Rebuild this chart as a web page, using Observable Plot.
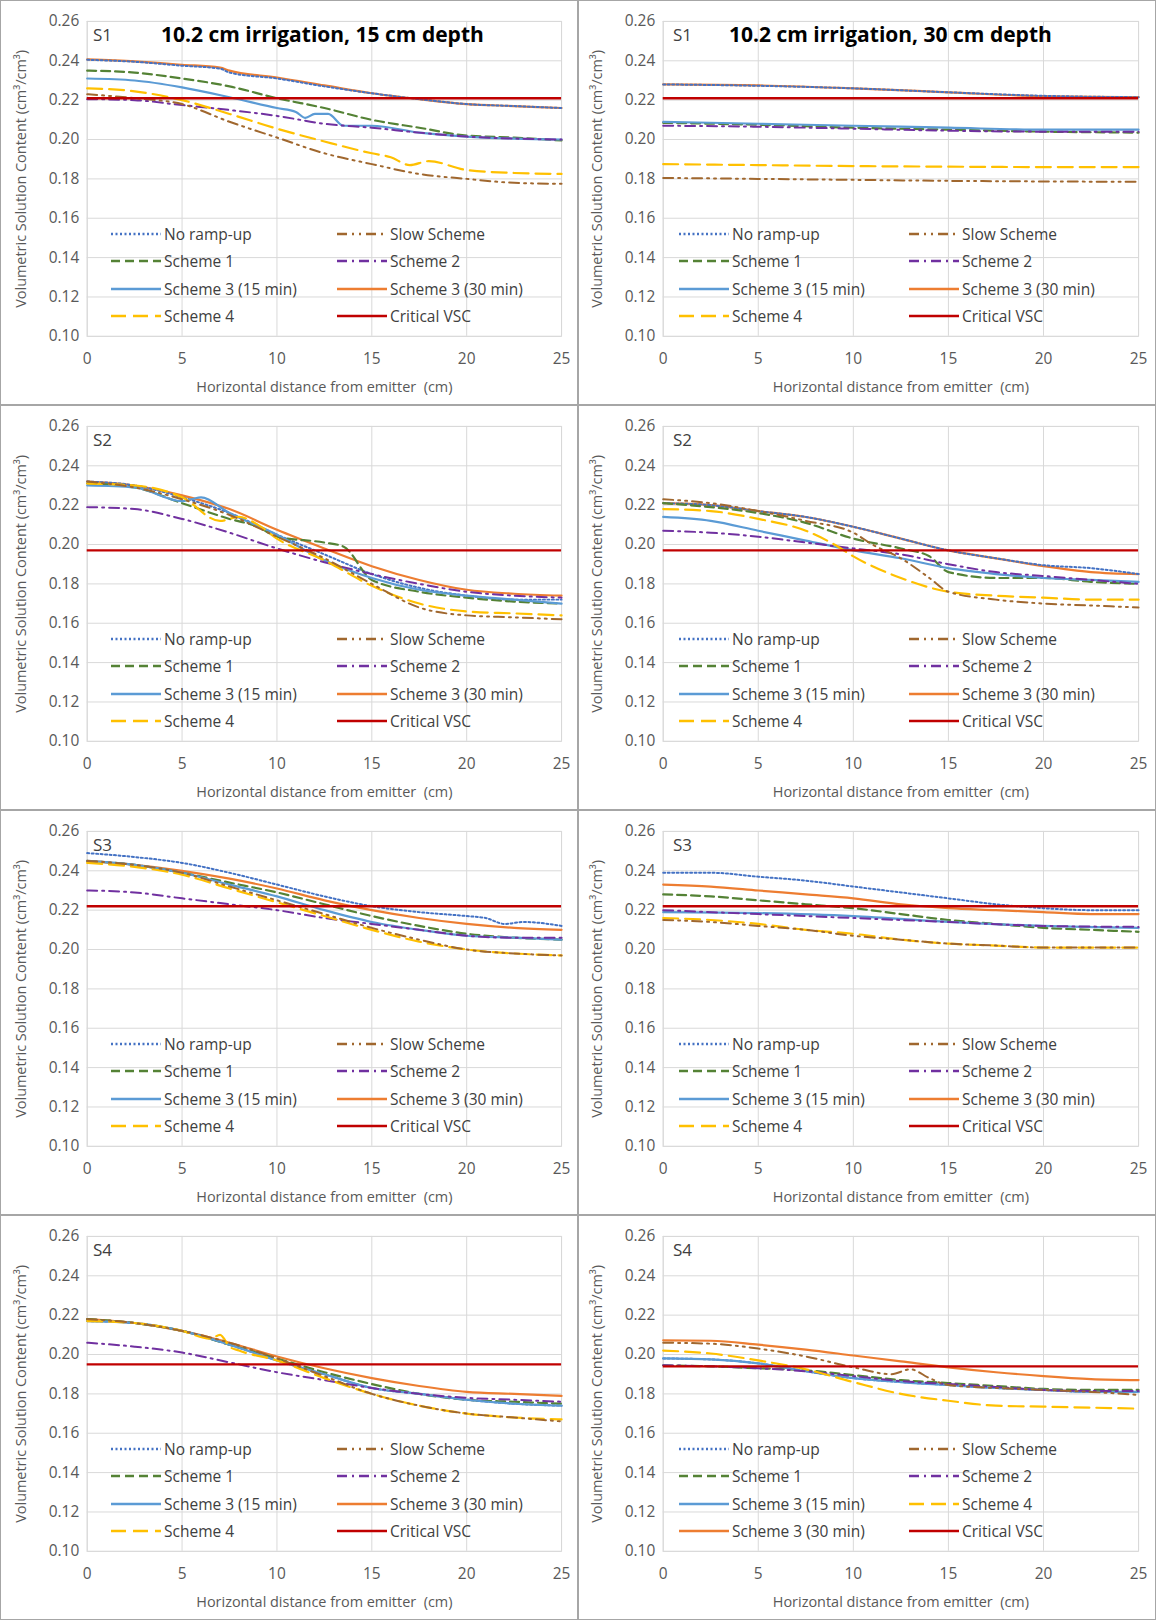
<!DOCTYPE html>
<html><head><meta charset="utf-8">
<script src="https://cdn.jsdelivr.net/npm/d3@7"></script>
<script src="https://cdn.jsdelivr.net/npm/@observablehq/plot@0.6"></script>
<style>
body{margin:0;background:#fff;font-family:"Open Sans",sans-serif;}
#grid{display:grid;grid-template-columns:578px 578px;width:1156px;}
.cell{position:relative;width:578px;height:405px;box-sizing:border-box;border:1px solid #a6a6a6;}
.cell svg{position:absolute;left:0;top:0;}
.tag{position:absolute;font-size:17px;color:#404040;}
.title{position:absolute;font-size:21px;font-weight:bold;color:#000;}
.leg{position:absolute;font-size:15.5px;color:#404040;display:flex;align-items:center;white-space:nowrap;}
.leg svg{position:static;margin-right:3px;}
</style></head><body><div id="grid"></div>
<script>
const X = [0,2.5,5,7.5,10,12.5,15,17.5,20,22.5,25];
const seriesNames = ["No ramp-up","Slow Scheme","Scheme 1","Scheme 2","Scheme 3 (15 min)","Scheme 3 (30 min)","Scheme 4","Critical VSC"];
const colors = ["#4472C4","#A0672E","#548235","#7030A0","#5B9BD5","#ED7D31","#FFC000","#C00000"];
const dashes = ["2,2.5","10,5,2,5,2,5","9,5","10,5,2,5","none","none","15,7","none"];
const widths = [2,2,2.2,2,2.2,2.2,2.2,2.4];
const panelTags = ["S1","S1","S2","S2","S3","S3","S4","S4"];
const panelTitles = ["10.2 cm irrigation, 15 cm depth","10.2 cm irrigation, 30 cm depth","","","","","",""];
const critical = [0.221,0.221,0.197,0.197,0.222,0.222,0.195,0.194];
const P1 = [
 [[0,.2405],[2.5,.2395],[5,.2375],[7,.236],[7.5,.234],[10,.231],[12.5,.227],[15,.2235],[17.5,.2205],[20,.218],[22.5,.217],[25,.216]],
 [[0,.223],[2.5,.221],[5,.218],[7.5,.209],[10,.201],[12.5,.193],[15,.1875],[17.5,.1825],[20,.18],[22.5,.178],[25,.1775]],
 [[0,.235],[2.5,.234],[5,.231],[7.5,.227],[10,.221],[12.5,.216],[15,.21],[17.5,.206],[20,.202],[22.5,.201],[25,.1995]],
 [[0,.2205],[2.5,.22],[5,.2175],[7.5,.215],[10,.212],[12.5,.208],[15,.206],[17.5,.2035],[20,.2015],[22.5,.2005],[25,.2]],
 [[0,.231],[2.5,.23],[5,.2265],[7.5,.2215],[10,.216],[11,.214],[11.5,.211],[12,.213],[12.7,.213],[13.5,.207],[15,.207],[17.5,.2035],[20,.2015],[22.5,.2005],[25,.2]],
 [[0,.2407],[2.5,.2397],[5,.238],[7,.2365],[7.5,.235],[10,.2315],[12.5,.2275],[15,.2235],[17.5,.2205],[20,.218],[22.5,.217],[25,.216]],
 [[0,.226],[2.5,.2245],[5,.22],[7.5,.213],[10,.2055],[12.5,.199],[15,.193],[16,.191],[17,.187],[18,.189],[20,.1845],[22.5,.183],[25,.1825]]
];
const P2 = [
 [[0,.228],[5,.2273],[10,.226],[15,.224],[20,.2222],[25,.2215]],
 [[0,.1805],[5,.18],[10,.1795],[15,.179],[20,.1787],[25,.1785]],
 [[0,.2085],[5,.2075],[10,.206],[15,.205],[20,.204],[25,.2035]],
 [[0,.207],[5,.2065],[10,.2055],[15,.2045],[20,.204],[25,.204]],
 [[0,.209],[5,.208],[10,.207],[15,.206],[20,.205],[25,.205]],
 [[0,.228],[5,.2275],[10,.226],[15,.224],[20,.222],[25,.2215]],
 [[0,.1875],[5,.187],[10,.1865],[15,.1862],[20,.186],[25,.186]]
];
const P3 = [
 [[0,.232],[2.5,.23],[5,.224],[7.5,.216],[10,.205],[12.5,.195],[15,.185],[17.5,.178],[20,.174],[22.5,.172],[25,.172]],
 [[0,.232],[2.5,.229],[5,.223],[7.5,.215],[10,.204],[12.5,.193],[15,.18],[17.5,.168],[20,.164],[22.5,.163],[25,.162]],
 [[0,.231],[2.5,.229],[5,.221],[7.5,.213],[9,.209],[10,.204],[12.5,.201],[13.5,.199],[15,.182],[17.5,.176],[20,.173],[22.5,.171],[25,.17]],
 [[0,.219],[2.5,.218],[5,.213],[7.5,.206],[10,.198],[12.5,.191],[15,.185],[17.5,.18],[20,.176],[22.5,.174],[25,.173]],
 [[0,.23],[2.5,.229],[5,.222],[5.5,.223],[6,.224],[7.5,.216],[10,.205],[12.5,.192],[15,.183],[17.5,.177],[20,.174],[22.5,.172],[25,.17]],
 [[0,.232],[2.5,.23],[5,.225],[7.5,.218],[10,.2075],[12.5,.198],[15,.189],[17.5,.182],[20,.177],[22.5,.175],[25,.174]],
 [[0,.231],[2.5,.23],[5,.224],[7,.212],[8,.214],[9,.21],[10,.203],[12.5,.192],[15,.179],[17.5,.17],[20,.166],[22.5,.165],[25,.164]]
];
const P4 = [
 [[0,.221],[2.5,.22],[5,.217],[7.5,.214],[10,.209],[12.5,.203],[15,.197],[17.5,.193],[20,.1895],[22.5,.188],[25,.185]],
 [[0,.223],[2.5,.221],[5,.217],[7.5,.212],[10,.206],[11,.2],[12.5,.193],[14,.183],[15,.176],[17.5,.172],[20,.17],[22.5,.169],[25,.168]],
 [[0,.221],[2.5,.219],[5,.216],[7.5,.211],[10,.203],[12.5,.198],[14,.194],[15,.186],[17.5,.183],[20,.183],[22.5,.181],[25,.18]],
 [[0,.207],[2.5,.206],[5,.204],[7.5,.201],[10,.198],[12.5,.195],[15,.19],[17.5,.186],[20,.184],[22.5,.182],[25,.18]],
 [[0,.214],[2.5,.212],[5,.207],[7.5,.202],[10,.197],[12.5,.193],[15,.188],[17.5,.185],[20,.183],[22.5,.182],[25,.181]],
 [[0,.221],[2.5,.22],[5,.217],[7.5,.214],[10,.209],[12.5,.203],[15,.197],[17.5,.193],[20,.189],[22.5,.186],[25,.185]],
 [[0,.218],[2.5,.217],[5,.213],[7.5,.207],[9,.2],[10,.194],[12.5,.183],[15,.176],[17.5,.174],[20,.173],[22.5,.172],[25,.172]]
];
const P5 = [
 [[0,.249],[2.5,.247],[5,.244],[7.5,.239],[10,.233],[12.5,.227],[15,.222],[17.5,.219],[20,.217],[21,.216],[22,.213],[23,.214],[25,.212]],
 [[0,.245],[2.5,.243],[5,.239],[7.5,.232],[10,.225],[12.5,.218],[15,.211],[17.5,.205],[20,.2],[22.5,.198],[25,.197]],
 [[0,.245],[2.5,.243],[5,.239],[7.5,.234],[10,.229],[12.5,.223],[15,.217],[17.5,.212],[20,.208],[22.5,.206],[25,.205]],
 [[0,.23],[2.5,.229],[5,.226],[7.5,.223],[10,.22],[12.5,.216],[15,.213],[17.5,.21],[20,.207],[22.5,.206],[25,.206]],
 [[0,.245],[2.5,.243],[5,.239],[7.5,.233],[10,.227],[12.5,.22],[15,.214],[17.5,.21],[20,.207],[22.5,.206],[25,.205]],
 [[0,.245],[2.5,.243],[5,.24],[7.5,.236],[10,.231],[12.5,.225],[15,.22],[17.5,.216],[20,.213],[22.5,.211],[25,.21]],
 [[0,.244],[2.5,.242],[5,.238],[7.5,.231],[10,.224],[12.5,.217],[15,.21],[17.5,.204],[20,.2],[22.5,.198],[25,.197]]
];
const P6 = [
 [[0,.239],[2.5,.239],[5,.237],[7.5,.235],[10,.232],[12.5,.229],[15,.226],[17.5,.223],[20,.221],[22.5,.22],[25,.22]],
 [[0,.215],[2.5,.214],[5,.212],[7.5,.21],[10,.207],[12.5,.205],[15,.203],[17.5,.202],[20,.201],[22.5,.201],[25,.201]],
 [[0,.228],[2.5,.227],[5,.225],[7.5,.223],[10,.221],[12.5,.218],[15,.215],[17.5,.213],[20,.211],[22.5,.21],[25,.209]],
 [[0,.22],[5,.218],[10,.216],[15,.214],[20,.212],[25,.2115]],
 [[0,.219],[5,.2185],[10,.217],[15,.214],[20,.212],[25,.211]],
 [[0,.233],[2.5,.232],[5,.23],[7.5,.228],[10,.226],[12.5,.223],[15,.221],[17.5,.22],[20,.219],[22.5,.218],[25,.218]],
 [[0,.216],[2.5,.215],[5,.213],[7.5,.21],[10,.208],[12.5,.205],[15,.203],[17.5,.202],[20,.201],[22.5,.201],[25,.201]]
];
const P7 = [
 [[0,.217],[2.5,.216],[5,.212],[7.5,.205],[10,.197],[12.5,.19],[15,.183],[17.5,.18],[20,.177],[22.5,.175],[25,.174]],
 [[0,.218],[2.5,.216],[5,.212],[7.5,.206],[10,.198],[12.5,.189],[15,.18],[17.5,.174],[20,.17],[22.5,.168],[25,.166]],
 [[0,.218],[2.5,.216],[5,.212],[7.5,.205],[10,.198],[12.5,.191],[15,.185],[17.5,.18],[20,.177],[22.5,.176],[25,.175]],
 [[0,.206],[2.5,.204],[5,.201],[7.5,.196],[10,.191],[12.5,.187],[15,.183],[17.5,.18],[20,.178],[22.5,.177],[25,.176]],
 [[0,.217],[2.5,.216],[5,.212],[7.5,.205],[10,.197],[12.5,.19],[15,.183],[17.5,.18],[20,.177],[22.5,.175],[25,.174]],
 [[0,.218],[2.5,.216],[5,.212],[7.5,.206],[10,.199],[12.5,.193],[15,.188],[17.5,.184],[20,.181],[22.5,.18],[25,.179]],
 [[0,.217],[2.5,.216],[5,.212],[6.5,.208],[7,.21],[7.5,.204],[8,.202],[10,.197],[12.5,.188],[15,.18],[17.5,.174],[20,.17],[22.5,.168],[25,.167]]
];
const P8 = [
 [[0,.198],[2.5,.1975],[5,.1955],[7.5,.1915],[10,.188],[12.5,.186],[15,.1845],[17.5,.183],[20,.182],[22.5,.181],[25,.181]],
 [[0,.206],[2.5,.2055],[5,.203],[7.5,.199],[10,.1935],[12,.19],[13,.1925],[14,.188],[15,.1845],[17.5,.183],[20,.182],[22.5,.181],[25,.1795]],
 [[0,.1945],[2.5,.194],[5,.193],[7.5,.192],[10,.1895],[12.5,.187],[15,.1855],[17.5,.184],[20,.1825],[22.5,.182],[25,.182]],
 [[0,.1945],[2.5,.194],[5,.193],[7.5,.1915],[10,.189],[12.5,.1865],[15,.185],[17.5,.1835],[20,.182],[22.5,.1815],[25,.1815]],
 [[0,.198],[2.5,.1975],[5,.1955],[7.5,.1915],[10,.188],[12.5,.186],[15,.1845],[17.5,.183],[20,.182],[22.5,.181],[25,.181]],
 [[0,.2072],[2.5,.207],[5,.205],[7.5,.2025],[10,.1995],[12.5,.1965],[15,.1935],[17.5,.191],[20,.189],[22.5,.1875],[25,.187]],
 [[0,.202],[2.5,.2005],[5,.197],[7.5,.1925],[10,.186],[12.5,.18],[15,.1765],[17.5,.174],[20,.1735],[22.5,.173],[25,.1725]]
];
const panels = [P1,P2,P3,P4,P5,P6,P7,P8];
const legendOrderStd = [0,1,2,3,4,5,6,7];
const legendOrderP8 = [0,1,2,3,4,6,5,7];
const yTicks = [0.10,0.12,0.14,0.16,0.18,0.20,0.22,0.24,0.26];
const xTicks = [0,5,10,15,20,25];
const drawOrder = [5,0,2,4,3,6,1];

const grid = document.getElementById("grid");
panels.forEach((P, pi) => {
  const right = pi % 2 === 1;
  const cell = document.createElement("div"); cell.className = "cell"; grid.appendChild(cell);
  const rows = [];
  P.forEach((pts, si) => pts.forEach(([x,y]) => rows.push({s:si, x, y})));
  const marks = [
    Plot.gridX(xTicks, {stroke:"#d9d9d9", strokeOpacity:1}),
    Plot.gridY(yTicks, {stroke:"#d9d9d9", strokeOpacity:1}),
    Plot.frame({stroke:"#d9d9d9"}),
    Plot.axisY(yTicks, {tickSize:0, tickFormat:d3.format(".2f"), fontSize:15.5, fill:"#595959", tickPadding:8,
      label:"Volumetric Solution Content (cm³/cm³)", labelAnchor:"center", labelArrow:"none", labelOffset:right?72:72}),
    Plot.axisX(xTicks, {tickSize:0, fontSize:15.5, fill:"#595959", tickPadding:17,
      label:"Horizontal distance from emitter  (cm)", labelAnchor:"center", labelArrow:"none", labelOffset:56})
  ];
  drawOrder.forEach(si => {
    marks.push(Plot.line(rows.filter(r => r.s === si), {x:"x", y:"y", curve:"monotone-x",
      stroke:colors[si], strokeWidth:widths[si], strokeDasharray:dashes[si]}));
  });
  marks.push(Plot.ruleY([critical[pi]], {stroke:colors[7], strokeWidth:widths[7]}));
  const svg = Plot.plot({
    width:578, height:405,
    marginLeft: right?84:86, marginRight: right?17:16, marginTop:20, marginBottom:69,
    x:{domain:[0,25]}, y:{domain:[0.10,0.26]},
    style:{fontFamily:"Open Sans, sans-serif", fontSize:"14px", color:"#595959", background:"transparent"},
    marks
  });
  svg.querySelectorAll("g[aria-label='y-axis label'] text, g[aria-label='x-axis label'] text").forEach(t=>{t.setAttribute("font-size","14.5");});
  cell.appendChild(svg);
  const tag = document.createElement("div"); tag.className="tag"; tag.textContent = panelTags[pi];
  tag.style.left = (right?94:92)+"px"; tag.style.top = "22px"; cell.appendChild(tag);
  if (panelTitles[pi]) {
    const t = document.createElement("div"); t.className="title"; t.textContent = panelTitles[pi];
    t.style.left = (right?150:160)+"px"; t.style.top = "19px"; cell.appendChild(t);
  }
  const order = pi === 7 ? legendOrderP8 : legendOrderStd;
  order.forEach((si, k) => {
    const col = k % 2, row = Math.floor(k/2);
    const d = document.createElement("div"); d.className="leg";
    const lx = right ? (col ? 330 : 100) : (col ? 336 : 110);
    d.style.left = lx+"px"; d.style.top = (222 + row*27.3)+"px";
    const dash = dashes[si] === "none" ? "" : `stroke-dasharray="${dashes[si]}"`;
    d.innerHTML = `<svg width="50" height="10"><line x1="0" x2="50" y1="5" y2="5" stroke="${colors[si]}" stroke-width="${widths[si]+0.3}" ${dash}/></svg><span>${seriesNames[si]}</span>`;
    cell.appendChild(d);
  });
});
</script></body></html>
